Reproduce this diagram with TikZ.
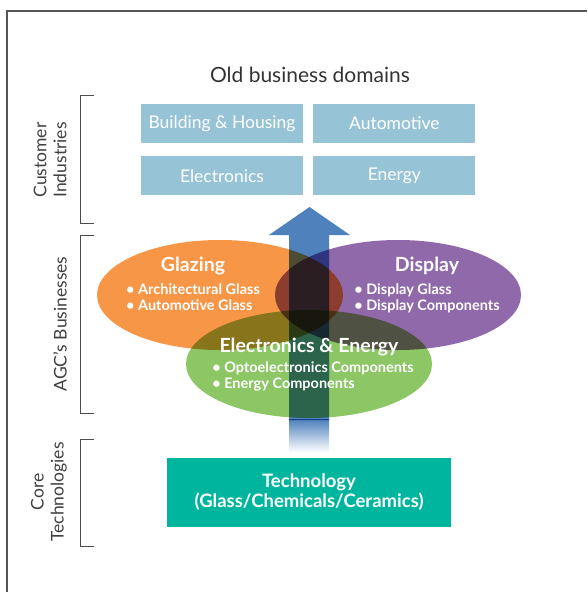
\documentclass[tikz,border=0pt]{standalone}
\usepackage{fontspec}
\setmainfont{Lato}
\usetikzlibrary{positioning}
\definecolor{domainblue}{HTML}{97C3D6}
\definecolor{glazeorange}{HTML}{F79646}
\definecolor{displaypurple}{HTML}{9069AB}
\definecolor{energygreen}{HTML}{8CC665}
\definecolor{arrowblue}{HTML}{4F81BD}
\definecolor{techteal}{HTML}{00B59D}
\definecolor{framegray}{HTML}{555555}
\tikzstyle{domainbox} = [fill=domainblue, text=white, minimum width=162pt, minimum height=39pt, inner sep=0pt, font=\fontsize{17.5}{20}\selectfont]
\tikzstyle{layerlabel} = [rotate=90, align=center, text=black!75, font=\fontsize{17.5}{20}\selectfont]
\tikzstyle{layerbracket} = [draw=black!70, line width=0.8pt]
\tikzstyle{bizname} = [text=white, font=\bfseries\fontsize{19.5}{22}\selectfont, inner sep=0pt]
\tikzstyle{bizitems} = [text=white, align=left, inner sep=0pt, font=\bfseries\fontsize{14.5}{16}\selectfont]
\tikzstyle{venn} = [blend mode=multiply]

\begin{document}
\begin{tikzpicture}[x=1pt, y=-1pt]
	\useasboundingbox (0,0) rectangle (587,592);
	\draw[framegray, line width=1.2pt] (7,592) -- (7,11) -- (587,11);

	% customer industries
	\node[text=black!80, font=\fontsize{21}{24}\selectfont] (old) at (310,75) {Old business domains};
	\node[domainbox] (build) at (222,123.5) {Building \& Housing};
	\node[domainbox, right=10pt of build] (auto) {Automotive};
	\node[domainbox, below=13pt of build] (elec) {Electronics};
	\node[domainbox, right=10pt of elec] (energy) {Energy};

	% the three businesses
	\fill[glazeorange, venn] (220,295) ellipse [x radius=123, y radius=55];
	\fill[displaypurple, venn] (398,295) ellipse [x radius=123, y radius=55];
	\fill[energygreen, venn] (309,364) ellipse [x radius=123, y radius=54];

	% arrow up from the core technologies
	\fill[arrowblue, venn] (289,420) -- (289,235) -- (269,235) -- (309.5,207) -- (350,235) -- (329,235) -- (329,420) -- cycle;
	\shade[venn, top color=arrowblue, bottom color=white] (289,419.5) rectangle (329,452);

	\node[bizname] (glazing) at (193,266) {Glazing};
	\node[bizitems, below=8pt of glazing] {• Architectural Glass\\• Automotive Glass};
	\node[bizname] (display) at (427,266) {Display};
	\node[bizitems, below=8pt of display] {• Display Glass\\• Display Components};
	\node[bizname] (elecen) at (309,347) {Electronics \& Energy};
	\node[bizitems, below=5pt of elecen, xshift=4pt] {• Optoelectronics Components\\• Energy Components};

	\node[fill=techteal, text=white, minimum width=284pt, minimum height=69pt, align=center,
		font=\bfseries\fontsize{18.5}{20}\selectfont] (tech) at (309,492.5) {Technology\\(Glass/Chemicals/Ceramics)};

	% layer brackets
	\draw[layerbracket] (94,95) -- (80,95) -- (80,223) -- (94,223);
	\draw[layerbracket] (94,235) -- (80,235) -- (80,413) -- (94,413);
	\draw[layerbracket] (94,439) -- (80,439) -- (80,546) -- (94,546);
	\node[layerlabel] (cust) at (50,160) {Customer\\Industries};
	\node[layerlabel] (agc) at (60,324) {AGC’s Businesses};
	\node[layerlabel] (core) at (49,492) {Core\\Technologies};
\end{tikzpicture}
\end{document}
